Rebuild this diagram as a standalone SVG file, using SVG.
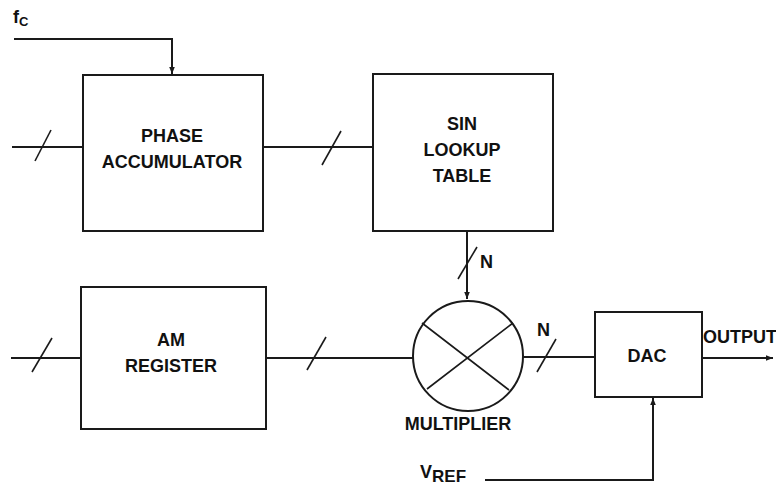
<svg xmlns="http://www.w3.org/2000/svg" width="776" height="488" viewBox="0 0 776 488">
  <style>
    .box { fill: #fff; stroke: #1a1a1a; stroke-width: 2; }
    .wire { fill: none; stroke: #1a1a1a; stroke-width: 2; }
    .bus { fill: none; stroke: #1a1a1a; stroke-width: 1.6; }
    .lbl { font-family: "Liberation Sans", Arial, sans-serif; font-weight: bold; font-size: 18px; fill: #111; text-anchor: middle; }
    .tag { font-family: "Liberation Sans", Arial, sans-serif; font-weight: bold; font-size: 18px; fill: #111; }
  </style>
  <defs>
    <marker id="arrow" viewBox="0 0 10 10" refX="10" refY="5" markerWidth="7" markerHeight="7" markerUnits="userSpaceOnUse" orient="auto">
      <path d="M0,1 L10,5 L0,9 z" fill="#1a1a1a"/>
    </marker>
  </defs>

  <rect width="776" height="488" fill="#fff"/>

  <!-- connectors -->
  <g id="connectors">
    <path class="wire" d="M14,39 H172 V74" marker-end="url(#arrow)"/>
    <path class="wire" d="M12,147 H83"/>
    <path class="bus" d="M35,161 L51,130"/>
    <path class="wire" d="M263,147 H373"/>
    <path class="bus" d="M322,165 L341,131"/>
    <path class="wire" d="M467,231 V299" marker-end="url(#arrow)"/>
    <path class="bus" d="M458,279 L477,247"/>
    <path class="wire" d="M11,358 H81"/>
    <path class="bus" d="M32,372 L52,338"/>
    <path class="wire" d="M266,358 H413"/>
    <path class="bus" d="M307,370 L326,337"/>
    <path class="wire" d="M523,357 H595"/>
    <path class="bus" d="M537,372 L556,339"/>
    <path class="wire" d="M702,358 H773" marker-end="url(#arrow)"/>
    <path class="wire" d="M485,480 H653 V398" marker-end="url(#arrow)"/>
  </g>

  <g id="phase-accumulator">
    <rect class="box" x="83" y="75" width="180" height="156"/>
    <text class="lbl" x="172" y="142">PHASE</text>
    <text class="lbl" x="172" y="168">ACCUMULATOR</text>
  </g>

  <g id="sin-lookup">
    <rect class="box" x="373" y="74" width="180" height="157"/>
    <text class="lbl" x="462" y="130">SIN</text>
    <text class="lbl" x="462" y="156">LOOKUP</text>
    <text class="lbl" x="462" y="182">TABLE</text>
  </g>

  <g id="am-register">
    <rect class="box" x="81" y="287" width="185" height="142"/>
    <text class="lbl" x="171" y="346">AM</text>
    <text class="lbl" x="171" y="372">REGISTER</text>
  </g>

  <g id="multiplier">
    <circle class="box" cx="468" cy="356" r="55"/>
    <path class="bus" d="M422,323 L509,390 M513,323 L427,389"/>
    <text class="lbl" x="458" y="430">MULTIPLIER</text>
  </g>

  <g id="dac">
    <rect class="box" x="595" y="312" width="107" height="85"/>
    <text class="lbl" x="647" y="362">DAC</text>
  </g>

  <g id="labels">
    <text class="tag" x="13" y="23">f<tspan font-size="13" dy="3">C</tspan></text>
    <text class="tag" x="480" y="268">N</text>
    <text class="tag" x="537" y="336">N</text>
    <text class="tag" x="703" y="343">OUTPUT</text>
    <text class="tag" x="420" y="478">V<tspan font-size="17" dy="4">REF</tspan></text>
  </g>
</svg>
